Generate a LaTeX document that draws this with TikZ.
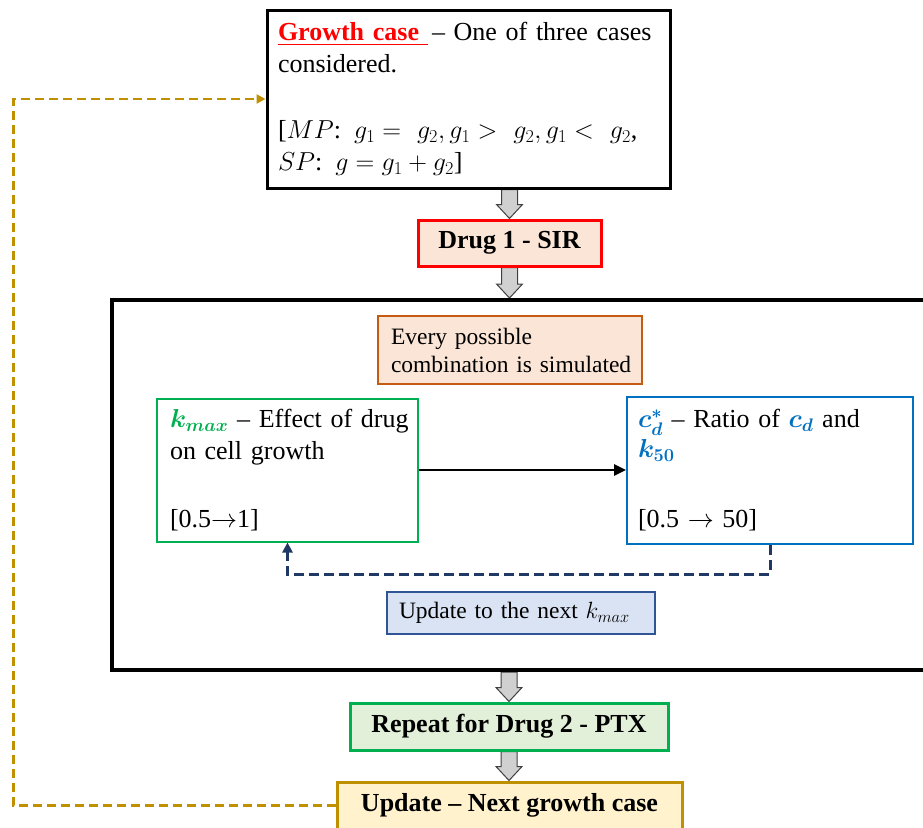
\RequirePackage{fix-cm}
\documentclass[tikz,border=0pt]{standalone}
\usepackage{amsmath,bm}
\usepackage{fontspec}
\setmainfont{Liberation Serif}
\usetikzlibrary{arrows.meta,calc}
\definecolor{peach}{HTML}{FBE5D6}
\definecolor{orangeb}{HTML}{C55A11}
\definecolor{greenb}{HTML}{00B050}
\definecolor{greenf}{HTML}{E2F0D9}
\definecolor{blueb}{HTML}{0070C0}
\definecolor{navy}{HTML}{203864}
\definecolor{bluef}{HTML}{DAE3F3}
\definecolor{bluebd}{HTML}{2F5597}
\definecolor{goldb}{HTML}{BF9000}
\definecolor{goldf}{HTML}{FFF2CC}
\definecolor{arrgray}{HTML}{D0D0D0}
\definecolor{arrdark}{HTML}{404040}
\pgfdeclarelayer{background}
\pgfsetlayers{background,main}
\tikzset{
  big/.style={font=\fontsize{26}{32}\selectfont},
  mid/.style={font=\fontsize{23.5}{28}\selectfont},
  txtbox/.style={align=left, inner ysep=0pt},
  topbox/.style={big, txtbox, draw=black, line width=3pt, fill=white, text width=381pt, inner xsep=11pt, minimum height=178pt},
  kbox/.style={big, txtbox, draw=greenb, line width=2pt, fill=white, text width=235pt, inner xsep=13pt, minimum height=143pt},
  cbox/.style={big, txtbox, draw=blueb, line width=2pt, fill=white, text width=264pt, inner xsep=11pt, minimum height=147pt},
  evbox/.style={mid, txtbox, draw=orangeb, line width=2pt, fill=peach, text width=238pt, inner xsep=13pt, minimum height=68pt},
  updk/.style={mid, txtbox, draw=bluebd, line width=2pt, fill=bluef, text width=244pt, inner xsep=12pt, minimum height=42pt},
  stagebox/.style={big, font=\fontsize{26}{32}\selectfont\bfseries, line width=3pt, inner sep=0pt},
  loopbox/.style={draw=black, line width=4pt, inner sep=0pt},
  blockarrow/.style={fill=arrgray, draw=arrdark, line width=1pt, line join=miter},
  solidarrow/.style={draw=black, line width=2.5pt, -{Triangle[length=12pt,width=11pt]}},
  navydash/.style={draw=navy, line width=3pt, dash pattern=on 10pt off 5pt, -{Triangle[length=10pt,width=10pt]}},
  golddash/.style={draw=goldb, line width=2.5pt, dash pattern=on 9pt off 5pt, -{Triangle[length=9pt,width=9pt]}},
}
\newcommand\blockarr[2]{%
  \path let \p1=(#1), \p2=(#2) in [blockarrow]
    (\x1-8pt,\y1) -- (\x1+8pt,\y1) -- (\x1+8pt,\y2+14pt) -- (\x1+13pt,\y2+14pt)
    -- (\x1,\y2) -- (\x1-13pt,\y2+14pt) -- (\x1-8pt,\y2+14pt) -- cycle;}
\begin{document}
\begin{tikzpicture}[x=1pt,y=-1pt]
\useasboundingbox (0,0) rectangle (923,827);

% outer loop container
\node[loopbox, minimum width=830pt, minimum height=370pt, anchor=north west] (loop) at (110,298) {};

% top box
\node[topbox] (top) at (468.5,99) {%
\mbox{{\color{red}\bfseries\underline{Growth case\ }}\,– One of three cases}\\
considered.\\[34pt]
\mbox{[$MP$: $g_1 =\ g_2, g_1 >\ g_2, g_1 <\ g_2$,}\\
\mbox{$SP$: $g = g_1 + g_2$]}};

% drug 1
\node[stagebox, draw=red, fill=peach, minimum width=183pt, minimum height=46pt] (drug1) at (509.5,243) {Drug 1 - SIR};

% every possible
\node[evbox] (every) at (510,350) {\mbox{Every possible}\\\mbox{combination is simulated}};

% kmax box
\node[kbox] (kmax) at (287.5,470) {%
\mbox{{\color{greenb}$\bm{k_{max}}$} – Effect of drug}\\
\mbox{on cell growth}\\[36pt]
\mbox{[0.5$\rightarrow$1]}};

% cd box
\node[cbox] (cd) at (770,470.5) {%
\mbox{{\color{blueb}$\bm{c_d^*}$} – Ratio of {\color{blueb}$\bm{c_d}$} and}\\[-2pt]
\mbox{{\color{blueb}$\bm{k_{50}}$}}\\[38pt]
\mbox{[0.5 $\rightarrow$ 50]}};

% update to next kmax
\node[updk] (updk) at (521,613) {\mbox{Update to the next $k_{max}$}};

% repeat
\node[stagebox, draw=greenb, fill=greenf, minimum width=318pt, minimum height=47pt] (repeat) at (509,726.5) {Repeat for Drug 2 - PTX};

% update growth case
\node[stagebox, draw=goldb, fill=goldf, minimum width=345pt, minimum height=47pt] (upd) at (509.5,805.5) {Update – Next growth case};

% connectors
\begin{pgfonlayer}{background}
\blockarr{drug1.north |- top.south}{drug1.north}
\blockarr{drug1.south}{drug1.south |- loop.north}
\blockarr{repeat.north |- loop.south}{repeat.north}
\blockarr{repeat.south}{repeat.south |- upd.north}
\end{pgfonlayer}

\draw[solidarrow] (kmax.east) -- (kmax.east -| cd.west);
\draw[navydash] (cd.south) -- ++(0,29) -| (kmax.south);
\draw[golddash] (upd.west) -- ++(-322,0) |- (top.west);
\end{tikzpicture}
\end{document}
